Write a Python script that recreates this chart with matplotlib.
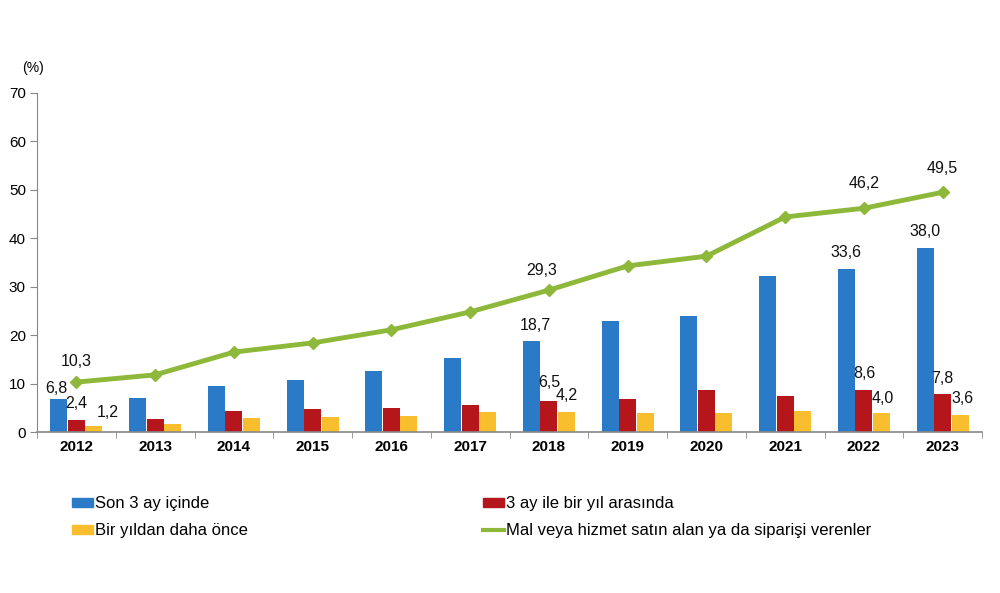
import numpy as np
import matplotlib
matplotlib.use('Agg')
import matplotlib.pyplot as plt
from matplotlib.patches import Patch
from matplotlib.lines import Line2D

plt.rcParams['font.family'] = ['Liberation Sans', 'DejaVu Sans']

# Data (%)
years = ['2012', '2013', '2014', '2015', '2016', '2017', '2018', '2019', '2020', '2021', '2022', '2023']
son_3_ay = [6.8, 7.0, 9.5, 10.7, 12.6, 15.3, 18.7, 22.9, 24.0, 32.2, 33.6, 38.0]
ay3_bir_yil = [2.4, 2.7, 4.3, 4.7, 5.0, 5.6, 6.5, 6.8, 8.7, 7.4, 8.6, 7.8]
bir_yildan_once = [1.2, 1.7, 2.8, 3.0, 3.3, 4.2, 4.2, 3.9, 3.9, 4.3, 4.0, 3.6]
toplam = [10.3, 11.8, 16.5, 18.4, 21.1, 24.8, 29.3, 34.3, 36.3, 44.4, 46.2, 49.5]

labels = ['Son 3 ay içinde', '3 ay ile bir yıl arasında',
          'Bir yıldan daha önce', 'Mal veya hizmet satın alan ya da siparişi verenler']

c_blue = '#2A7AC8'
c_red = '#B5161C'
c_yellow = '#F9BE2E'
c_green = '#8DB83A'

# years that get value labels
labelled = ['2012', '2018', '2022', '2023']
# label offsets in pixels (dx, dy) per series, per labelled year
off_line = {'2012': (0, 21), '2018': (-7, 20), '2022': (0, 25), '2023': (0, 24)}
off_blue = {'2012': (-3, 11), '2018': (4, 16), '2022': (0, 17), '2023': (0, 16)}
off_red = {'2012': (0, 17), '2018': (0, 18), '2022': (0, 17), '2023': (0, 16)}
off_yellow = {'2012': (14, 14), '2018': (0, 16), '2022': (1, 14), '2023': (2, 16)}

fig = plt.figure(figsize=(10, 5.93), dpi=100)
ax = fig.add_axes([0.037, 0.2715, 0.945, 0.5717])

x = np.arange(len(years))
w = 0.215
d = 0.222
ax.bar(x - d, son_3_ay, w, color=c_blue, zorder=2)
ax.bar(x, ay3_bir_yil, w, color=c_red, zorder=2)
ax.bar(x + d, bir_yildan_once, w, color=c_yellow, zorder=2)
ax.plot(x, toplam, color=c_green, lw=3.5, marker='D', markersize=6, zorder=3)


def fmt(v):
    return f'{v:.1f}'.replace('.', ',')


def put(xpos, val, off):
    ax.annotate(fmt(val), (xpos, val), xytext=off, textcoords='offset pixels',
                ha='center', va='center', fontsize=11.5, color='#111111', zorder=4)


for yr in labelled:
    i = years.index(yr)
    put(x[i], toplam[i], off_line[yr])
    put(x[i] - d, son_3_ay[i], off_blue[yr])
    put(x[i], ay3_bir_yil[i], off_red[yr])
    put(x[i] + d, bir_yildan_once[i], off_yellow[yr])

ax.set_xlim(-0.5, len(years) - 0.5)
ax.set_ylim(0, 70)
ax.set_yticks(range(0, 71, 10))
ax.tick_params(axis='y', labelsize=11, length=5, color='#888888', pad=3)
ax.set_xticks(x)
ax.set_xticklabels(years, fontsize=11, fontweight='bold')
ax.set_xticks(np.arange(-0.5, len(years), 1), minor=True)
ax.tick_params(axis='x', which='major', length=0, pad=6)
ax.tick_params(axis='x', which='minor', length=4, color='#888888')
for s in ['top', 'right']:
    ax.spines[s].set_visible(False)
for s in ['left', 'bottom']:
    ax.spines[s].set_color('#888888')
ax.spines['bottom'].set_linewidth(1.2)

fig.text(0.033, 0.885, '(%)', fontsize=10, ha='center', va='center')

h1 = [Patch(color=c_blue), Patch(color=c_yellow)]
h2 = [Patch(color=c_red), Line2D([], [], color=c_green, lw=3)]
kw = dict(frameon=False, fontsize=12, handlelength=1.25, handleheight=0.4,
          handletextpad=0.15, labelspacing=0.72, borderaxespad=0, borderpad=0)
fig.legend(h1, [labels[0], labels[2]], loc='upper left',
           bbox_to_anchor=(0.072, 0.163), **kw)
fig.legend(h2, [labels[1], labels[3]], loc='upper left',
           bbox_to_anchor=(0.483, 0.163), **kw)

fig.savefig('out.png', dpi=100)
